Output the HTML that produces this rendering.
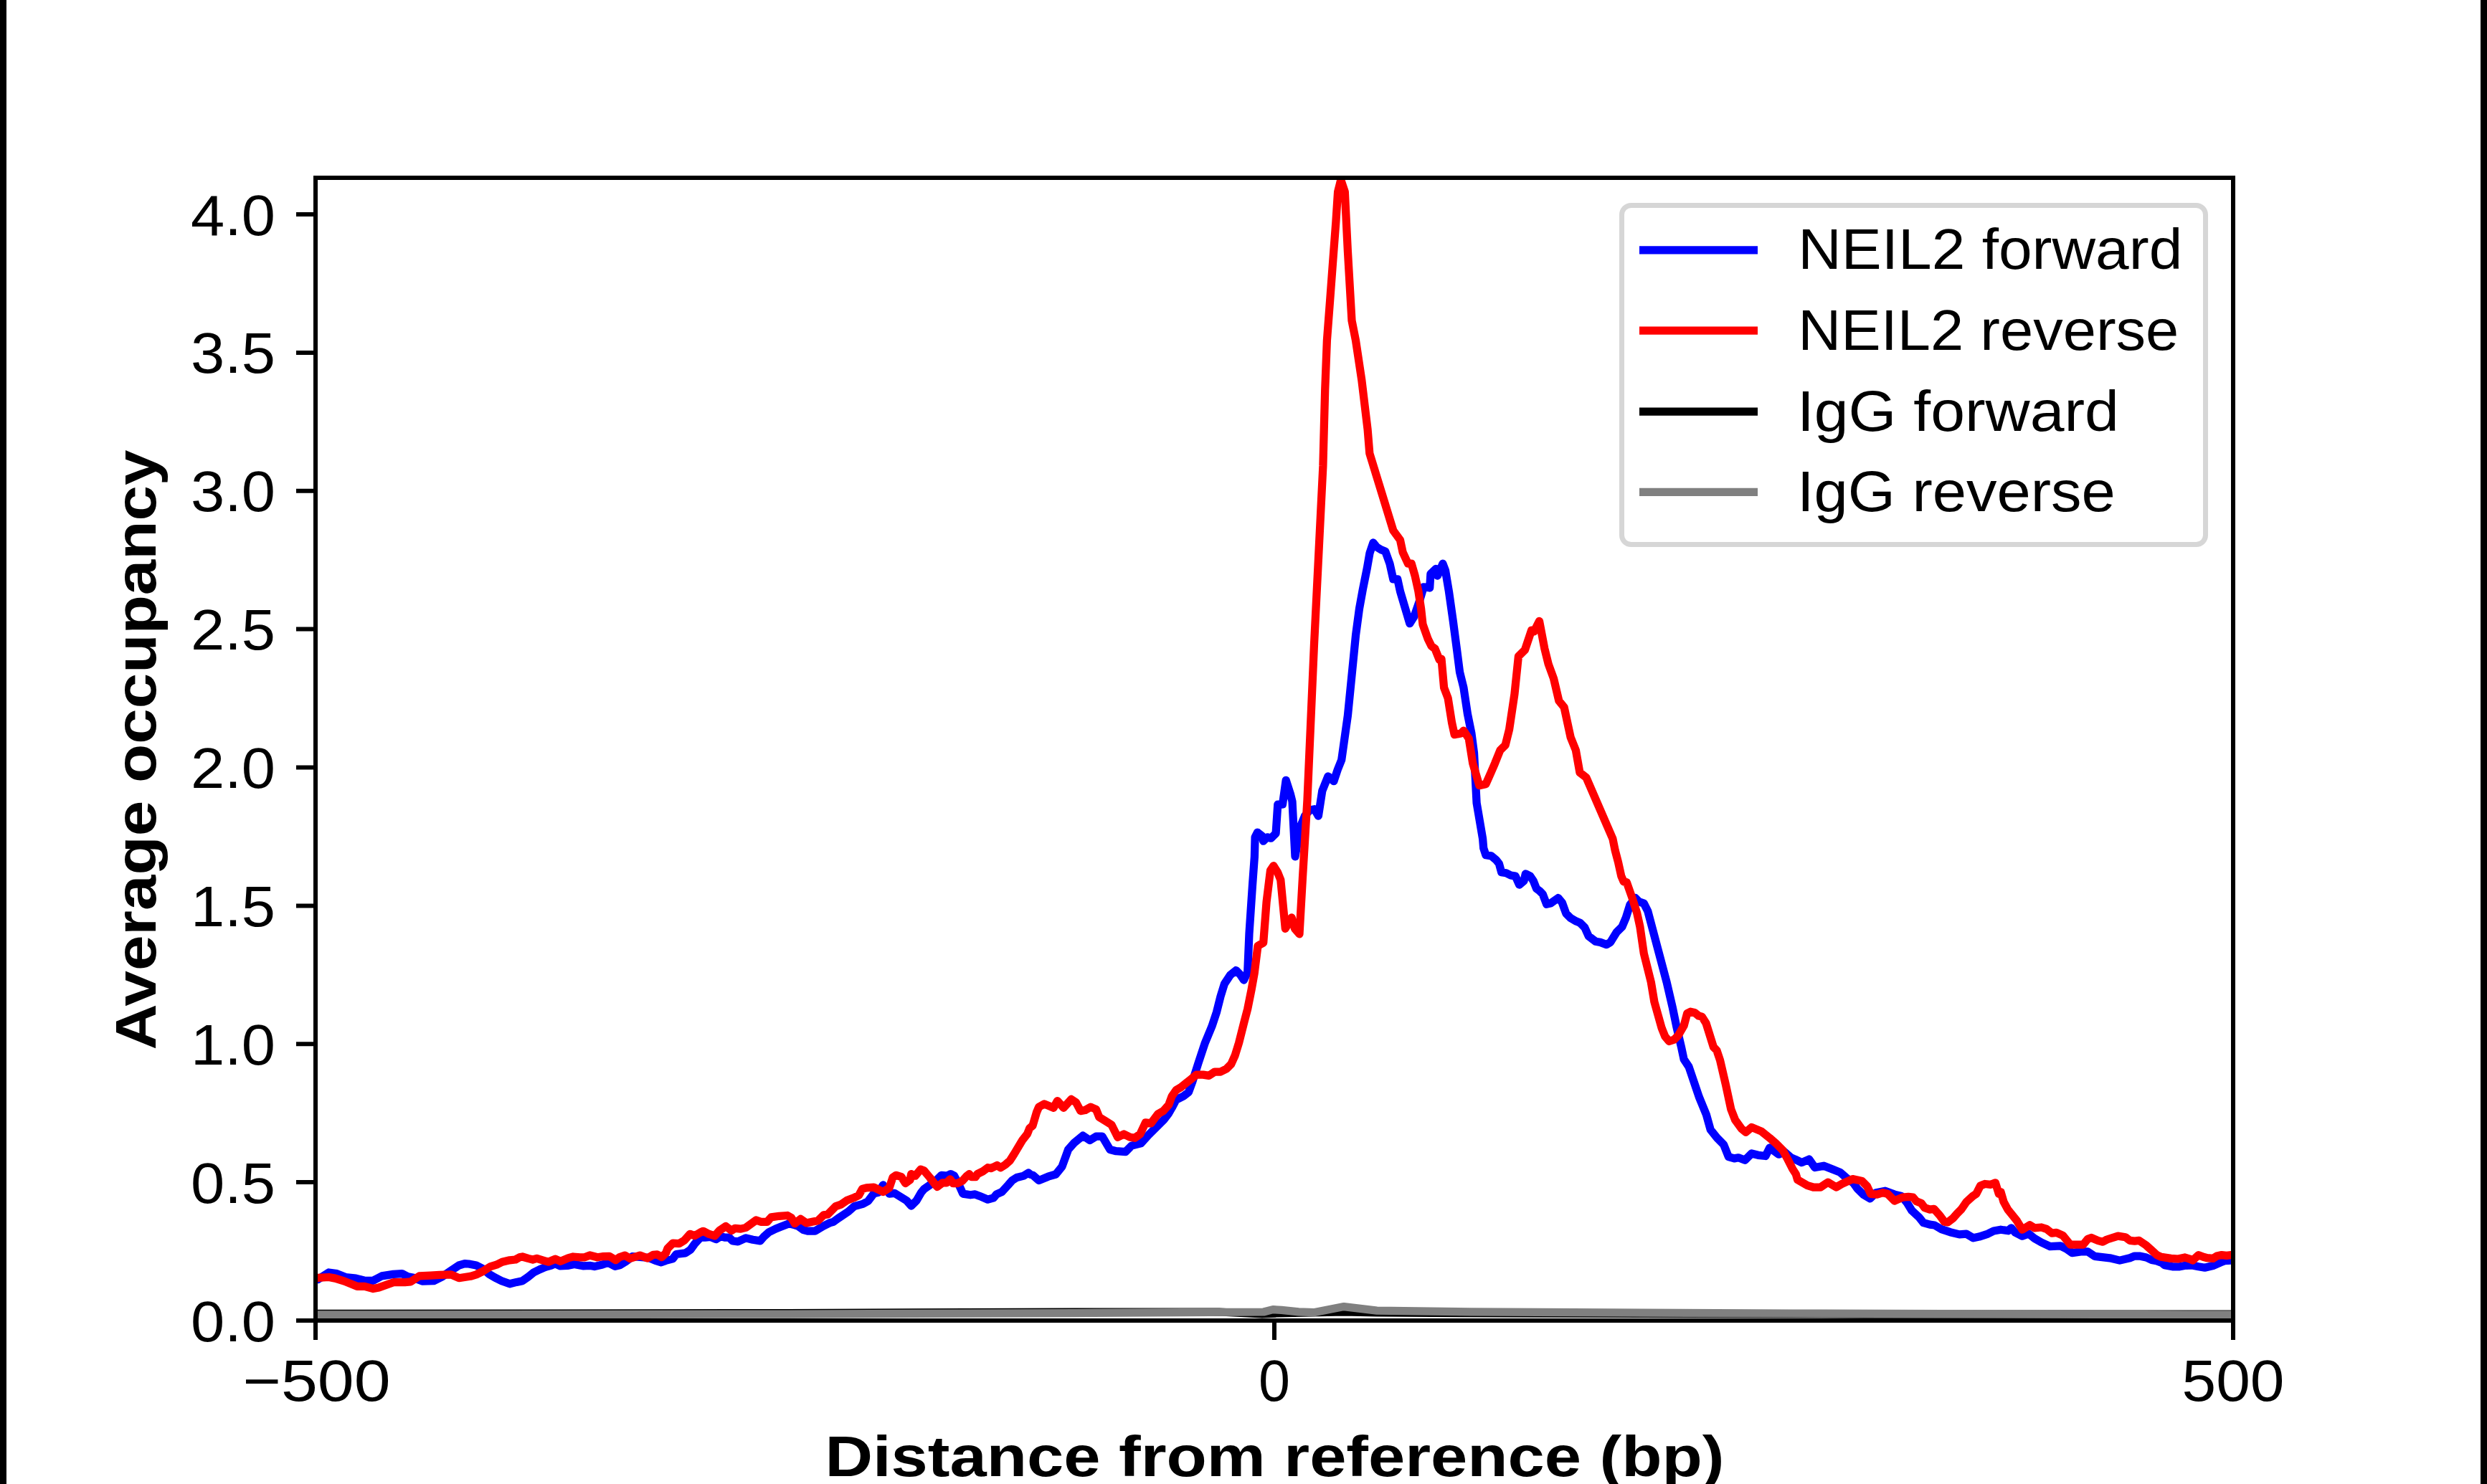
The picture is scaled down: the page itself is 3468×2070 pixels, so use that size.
<!DOCTYPE html>
<html><head><meta charset="utf-8">
<style>
html,body{margin:0;padding:0;background:#fff;width:3468px;height:2070px;overflow:hidden}
svg{display:block}
text{font-family:"Liberation Sans", sans-serif;fill:#000}
</style></head><body>
<svg width="3468" height="2070" viewBox="0 0 3468 2070">
<rect x="0" y="0" width="3468" height="2070" fill="#fff"/>
<rect x="0" y="0" width="9" height="2070" fill="#000"/>
<rect x="3459" y="0" width="9" height="2070" fill="#000"/>
<defs><clipPath id="ax"><rect x="440" y="248" width="2674" height="1594"/></clipPath></defs>
<g clip-path="url(#ax)" fill="none" stroke-linejoin="round" stroke-width="11.25">
<path d="M432.0 1784.7 L443.2 1784.7 L458.5 1775.0 L469.8 1776.6 L481.8 1781.5 L496.3 1783.1 L508.4 1786.3 L520.4 1786.3 L532.5 1779.9 L548.6 1777.4 L560.6 1776.6 L568.7 1780.7 L576.7 1782.3 L588.8 1787.1 L604.9 1786.7 L616.9 1780.7 L627.4 1773.4 L640.0 1765.0 L648.0 1762.6 L653.7 1763.0 L664.1 1765.0 L673.8 1769.9 L681.8 1777.1 L689.9 1781.9 L699.5 1786.7 L710.8 1790.8 L720.4 1788.4 L728.5 1786.7 L736.5 1781.1 L744.5 1774.7 L752.6 1770.7 L760.6 1767.4 L768.7 1765.0 L774.3 1762.6 L780.7 1765.8 L791.2 1765.4 L800.8 1763.4 L812.9 1765.8 L823.4 1765.4 L829.0 1766.6 L840.0 1764.0 L848.0 1761.2 L857.7 1766.4 L864.1 1764.8 L872.2 1760.0 L881.8 1752.7 L892.3 1753.5 L904.3 1754.3 L914.0 1758.4 L922.0 1760.8 L928.5 1758.4 L938.1 1755.9 L942.9 1749.5 L955.8 1747.9 L963.0 1743.1 L968.7 1735.0 L976.7 1726.2 L983.1 1726.2 L990.4 1725.4 L998.4 1728.6 L1004.9 1724.6 L1011.3 1726.2 L1016.9 1726.2 L1021.7 1731.0 L1029.0 1731.8 L1040.0 1726.9 L1049.7 1729.3 L1060.1 1730.9 L1065.7 1724.4 L1072.2 1718.8 L1081.8 1714.0 L1089.9 1710.8 L1100.3 1706.7 L1106.7 1708.4 L1112.4 1710.0 L1120.4 1715.6 L1126.9 1717.2 L1136.5 1717.2 L1148.6 1710.0 L1156.6 1705.9 L1162.2 1704.3 L1168.7 1699.5 L1183.1 1689.9 L1191.2 1682.6 L1203.2 1679.4 L1210.5 1675.4 L1218.5 1664.9 L1225.0 1663.3 L1231.4 1652.9 L1239.4 1664.1 L1240.0 1665.1 L1247.3 1664.3 L1264.3 1674.8 L1270.7 1682.1 L1278.0 1674.8 L1284.5 1663.5 L1288.5 1658.7 L1304.7 1647.3 L1312.8 1639.3 L1320.9 1640.1 L1325.7 1637.6 L1330.6 1640.1 L1337.0 1652.2 L1342.7 1665.1 L1353.2 1666.8 L1359.7 1665.9 L1366.2 1668.4 L1377.5 1673.2 L1385.6 1670.8 L1389.6 1665.9 L1396.9 1662.7 L1405.8 1653.0 L1411.5 1646.5 L1417.9 1642.5 L1427.6 1640.1 L1434.1 1636.0 L1437.3 1638.4 L1440.0 1639.1 L1448.6 1646.6 L1461.6 1641.2 L1472.3 1638.0 L1481.0 1627.2 L1489.6 1603.5 L1498.2 1593.8 L1510.1 1584.1 L1519.8 1590.6 L1528.4 1585.2 L1537.0 1585.2 L1547.8 1603.5 L1556.4 1605.7 L1569.4 1606.7 L1578.0 1598.1 L1590.9 1594.9 L1601.7 1583.0 L1612.5 1572.2 L1623.3 1561.5 L1629.8 1552.8 L1634.1 1545.3 L1640.0 1534.1 L1650.8 1528.7 L1657.5 1523.3 L1662.9 1508.5 L1671.0 1482.9 L1680.4 1454.6 L1689.9 1431.7 L1696.6 1411.4 L1702.0 1389.9 L1707.4 1372.4 L1715.5 1360.2 L1723.6 1353.5 L1729.0 1358.9 L1734.4 1367.0 L1739.7 1356.2 L1742.0 1301.8 L1746.4 1236.1 L1749.4 1194.8 L1750.1 1167.8 L1753.5 1161.1 L1760.2 1166.5 L1761.6 1173.2 L1767.0 1167.8 L1772.3 1169.2 L1779.1 1162.4 L1781.8 1122.0 L1788.5 1122.0 L1793.2 1088.3 L1799.3 1107.2 L1802.0 1118.0 L1806.0 1194.8 L1812.8 1154.3 L1819.5 1138.2 L1826.3 1130.1 L1833.0 1128.7 L1838.4 1138.2 L1843.8 1103.1 L1851.9 1082.9 L1859.9 1089.6 L1865.3 1073.5 L1870.7 1060.0 L1879.4 998.1 L1890.6 885.5 L1895.5 849.1 L1900.3 822.5 L1906.4 792.1 L1910.0 771.5 L1914.9 757.0 L1919.7 763.0 L1925.8 766.7 L1931.8 769.1 L1937.9 786.1 L1942.8 807.9 L1948.8 807.9 L1952.5 824.9 L1959.7 849.1 L1965.8 869.7 L1971.9 860.0 L1979.1 839.4 L1985.2 818.8 L1993.7 820.0 L1994.9 800.6 L2002.2 793.4 L2004.6 803.1 L2011.9 786.1 L2015.5 795.8 L2020.4 824.9 L2026.4 867.3 L2031.8 908.2 L2035.5 937.3 L2040.9 959.2 L2046.4 995.6 L2051.9 1022.9 L2055.5 1050.2 L2059.1 1120.0 L2067.6 1170.0 L2068.7 1183.0 L2071.9 1192.8 L2079.5 1193.9 L2086.1 1199.3 L2090.4 1204.7 L2093.7 1216.7 L2100.2 1217.8 L2106.7 1221.0 L2113.2 1222.1 L2118.6 1234.1 L2125.1 1228.6 L2127.3 1218.9 L2133.8 1222.1 L2138.2 1228.6 L2142.5 1239.5 L2146.9 1242.7 L2151.2 1247.1 L2156.6 1261.2 L2162.1 1260.1 L2172.9 1252.5 L2178.3 1259.0 L2183.8 1274.2 L2190.3 1280.7 L2197.9 1285.1 L2203.3 1287.2 L2209.8 1293.8 L2215.2 1305.7 L2225.0 1313.3 L2231.5 1314.4 L2240.2 1317.6 L2245.6 1314.4 L2254.3 1300.3 L2261.9 1292.7 L2267.4 1279.7 L2272.8 1262.3 L2280.4 1252.5 L2285.8 1257.9 L2292.3 1260.1 L2297.8 1271.0 L2324.1 1370.0 L2332.1 1404.4 L2337.8 1431.9 L2344.7 1461.6 L2348.1 1477.7 L2355.0 1488.0 L2369.2 1530.0 L2379.5 1555.2 L2385.2 1575.8 L2394.4 1587.3 L2403.5 1596.4 L2410.4 1613.6 L2418.4 1615.9 L2424.2 1614.8 L2433.3 1618.2 L2442.5 1609.0 L2451.6 1611.3 L2462.0 1612.5 L2467.7 1601.0 L2480.3 1610.2 L2488.3 1606.8 L2497.5 1614.8 L2503.2 1617.1 L2512.4 1621.6 L2522.7 1617.1 L2530.7 1628.5 L2543.3 1626.2 L2554.7 1630.8 L2566.2 1635.4 L2575.4 1643.4 L2584.5 1650.3 L2590.0 1658.0 L2598.1 1666.1 L2607.8 1671.8 L2615.9 1663.7 L2628.8 1661.2 L2641.8 1666.1 L2651.5 1668.5 L2659.6 1678.2 L2666.0 1688.7 L2675.7 1697.6 L2682.2 1705.7 L2691.1 1708.2 L2697.6 1709.0 L2707.3 1714.6 L2719.4 1718.7 L2732.3 1721.9 L2742.0 1721.1 L2751.7 1726.8 L2759.8 1725.1 L2772.0 1721.1 L2780.1 1717.0 L2790.0 1715.2 L2800.5 1716.8 L2804.6 1712.8 L2810.2 1719.3 L2819.9 1724.1 L2828.8 1720.9 L2836.9 1727.3 L2846.6 1733.0 L2858.7 1738.7 L2873.3 1737.9 L2881.4 1741.9 L2889.5 1747.6 L2901.6 1745.9 L2911.3 1745.9 L2921.0 1752.4 L2942.0 1754.8 L2955.8 1758.1 L2970.0 1754.7 L2976.7 1752.0 L2983.5 1752.0 L2992.9 1754.0 L3000.3 1757.4 L3007.1 1758.7 L3014.5 1761.4 L3018.5 1764.8 L3029.3 1766.8 L3039.4 1766.8 L3046.1 1765.5 L3055.6 1764.8 L3065.7 1766.8 L3074.4 1768.2 L3085.9 1765.5 L3096.7 1760.8 L3102.1 1758.7 L3111.2 1758.1 L3120.0 1758.1 L3122.0 1758.1" stroke="#0000ff"/>
<path d="M432.0 1782.3 L443.2 1782.3 L458.5 1781.5 L467.3 1783.1 L480.2 1787.1 L497.9 1794.3 L508.4 1794.3 L520.4 1797.6 L528.5 1795.9 L548.6 1788.7 L564.6 1788.7 L572.7 1787.9 L584.8 1779.9 L600.8 1779.1 L612.9 1778.3 L629.0 1777.8 L640.0 1782.7 L648.0 1781.5 L656.1 1780.3 L664.1 1777.9 L673.8 1773.1 L684.2 1766.6 L692.3 1764.2 L700.3 1760.2 L710.8 1757.8 L718.8 1757.0 L724.4 1753.8 L728.5 1753.0 L736.5 1755.4 L742.9 1757.0 L748.6 1755.4 L756.6 1757.8 L764.6 1760.2 L774.3 1756.2 L781.5 1759.4 L792.8 1754.6 L799.2 1753.0 L808.9 1753.8 L815.3 1753.8 L822.5 1751.0 L833.0 1753.8 L840.0 1752.7 L849.7 1752.3 L858.5 1757.6 L864.1 1753.5 L871.4 1751.1 L878.6 1755.5 L892.3 1751.1 L902.7 1755.1 L910.8 1750.3 L916.4 1749.9 L922.8 1753.5 L928.5 1747.9 L930.9 1741.5 L938.1 1734.2 L947.0 1734.6 L954.2 1730.2 L962.2 1721.4 L968.7 1723.8 L976.7 1719.0 L980.7 1717.3 L988.8 1721.4 L996.8 1723.8 L1003.2 1716.5 L1012.1 1710.5 L1020.1 1716.5 L1025.0 1713.3 L1033.0 1714.1 L1040.0 1712.4 L1054.5 1701.9 L1060.9 1704.3 L1069.8 1704.3 L1075.4 1697.9 L1086.6 1696.3 L1097.9 1695.5 L1103.5 1698.7 L1108.4 1706.7 L1116.4 1700.3 L1124.4 1705.9 L1132.5 1704.3 L1140.5 1702.7 L1148.6 1694.7 L1154.2 1693.9 L1165.5 1682.6 L1172.7 1680.2 L1180.7 1674.6 L1191.2 1670.6 L1197.6 1667.3 L1202.4 1658.5 L1208.1 1656.9 L1218.5 1656.1 L1231.4 1662.5 L1240.0 1657.0 L1244.9 1642.5 L1249.7 1639.3 L1257.0 1641.7 L1262.6 1650.6 L1269.1 1645.7 L1270.7 1637.6 L1276.4 1640.1 L1283.7 1631.2 L1288.5 1632.8 L1296.6 1642.5 L1304.7 1653.0 L1307.1 1655.4 L1314.4 1649.8 L1320.1 1649.8 L1324.9 1644.9 L1329.0 1650.6 L1335.4 1650.6 L1341.9 1647.3 L1348.4 1640.1 L1351.6 1637.6 L1354.8 1641.7 L1360.5 1641.7 L1362.9 1637.6 L1371.0 1633.6 L1377.5 1628.7 L1382.3 1629.6 L1390.4 1625.5 L1395.3 1628.7 L1401.7 1624.7 L1408.2 1619.0 L1413.9 1610.1 L1426.0 1589.9 L1432.5 1581.8 L1435.7 1573.7 L1440.0 1570.1 L1445.4 1551.8 L1448.6 1544.2 L1456.2 1539.9 L1469.1 1545.3 L1474.5 1535.6 L1483.1 1545.3 L1493.9 1533.4 L1500.4 1537.7 L1506.8 1549.6 L1513.3 1548.5 L1520.9 1544.2 L1528.4 1547.4 L1532.7 1558.2 L1541.3 1563.6 L1550.0 1569.0 L1558.6 1586.3 L1567.2 1581.9 L1575.8 1586.3 L1582.3 1587.3 L1589.9 1581.9 L1597.4 1565.8 L1605.0 1566.8 L1614.7 1553.9 L1622.2 1549.6 L1629.8 1541.0 L1634.1 1529.1 L1640.0 1520.6 L1646.7 1516.6 L1653.5 1511.2 L1660.2 1505.8 L1668.3 1499.1 L1677.7 1499.1 L1685.8 1500.4 L1693.9 1495.0 L1702.0 1495.0 L1710.1 1491.0 L1716.8 1484.2 L1722.2 1472.1 L1727.6 1454.6 L1734.4 1427.6 L1739.7 1407.4 L1745.1 1380.4 L1749.2 1357.5 L1754.0 1319.3 L1761.7 1315.0 L1766.1 1258.0 L1771.5 1214.2 L1775.9 1207.7 L1781.4 1216.4 L1785.8 1227.4 L1792.3 1295.3 L1801.1 1279.9 L1805.5 1295.3 L1812.0 1302.9 L1816.4 1225.2 L1823.0 1115.7 L1832.5 898.6 L1839.4 760.5 L1844.9 650.0 L1847.7 543.9 L1850.4 474.8 L1854.6 419.6 L1858.7 364.3 L1862.9 309.1 L1865.6 267.6 L1869.8 251.0 L1875.3 267.6 L1879.4 350.5 L1885.0 447.2 L1890.5 474.8 L1898.8 530.1 L1907.1 599.1 L1909.8 632.3 L1942.8 740.0 L1952.5 753.3 L1956.1 770.3 L1963.4 786.1 L1968.2 786.1 L1973.1 803.1 L1977.9 824.9 L1981.6 849.1 L1984.0 871.0 L1991.3 891.6 L1996.1 901.3 L2001.0 904.9 L2007.0 919.9 L2010.0 919.1 L2013.6 959.2 L2019.1 973.7 L2024.6 1008.3 L2028.2 1024.7 L2037.3 1022.9 L2040.9 1019.2 L2048.2 1030.1 L2053.7 1064.7 L2062.8 1095.7 L2071.9 1093.8 L2079.1 1077.5 L2084.6 1064.7 L2091.9 1046.5 L2099.2 1039.2 L2104.6 1017.4 L2111.9 968.3 L2117.4 915.5 L2126.5 906.4 L2135.6 879.1 L2139.2 880.9 L2146.5 866.4 L2153.8 904.6 L2159.2 926.4 L2166.5 946.4 L2173.8 977.4 L2181.1 986.5 L2190.1 1028.3 L2197.4 1046.5 L2202.9 1077.5 L2212.0 1084.7 L2248.9 1170.0 L2252.2 1186.3 L2256.5 1202.6 L2260.8 1222.1 L2264.1 1229.7 L2268.4 1230.8 L2276.0 1252.5 L2282.6 1273.1 L2286.9 1292.7 L2292.3 1330.0 L2302.3 1370.0 L2306.9 1397.5 L2317.2 1434.2 L2321.8 1445.6 L2327.5 1452.5 L2334.4 1450.2 L2340.1 1444.5 L2348.1 1430.7 L2352.7 1413.5 L2357.3 1411.2 L2363.0 1412.4 L2368.7 1417.0 L2373.3 1418.1 L2379.0 1427.3 L2389.4 1460.5 L2393.9 1465.1 L2398.5 1478.8 L2406.5 1513.2 L2413.8 1547.2 L2419.6 1562.1 L2428.7 1574.7 L2434.5 1579.3 L2442.5 1572.4 L2456.2 1578.1 L2467.7 1587.3 L2476.8 1595.3 L2486.0 1604.5 L2492.9 1617.1 L2499.8 1630.8 L2504.3 1637.7 L2506.6 1645.7 L2520.4 1653.7 L2528.4 1656.0 L2538.7 1656.0 L2549.0 1649.1 L2560.5 1656.0 L2568.5 1651.4 L2583.4 1644.6 L2590.0 1645.9 L2596.5 1647.5 L2603.7 1654.8 L2608.6 1665.3 L2617.5 1666.1 L2625.6 1663.7 L2632.1 1665.3 L2641.8 1675.0 L2653.1 1670.1 L2661.2 1669.3 L2667.6 1670.1 L2672.5 1675.8 L2679.0 1678.2 L2683.8 1684.7 L2691.1 1687.1 L2696.8 1686.3 L2704.8 1695.2 L2711.3 1704.1 L2716.2 1704.9 L2723.4 1699.3 L2729.1 1692.8 L2734.8 1687.1 L2742.0 1676.6 L2750.9 1668.5 L2755.8 1665.3 L2761.5 1654.0 L2767.9 1651.5 L2776.0 1652.3 L2782.5 1649.9 L2787.3 1665.3 L2790.0 1662.6 L2794.0 1676.4 L2799.7 1686.9 L2806.2 1695.0 L2812.6 1703.1 L2819.9 1715.2 L2830.4 1708.7 L2836.9 1712.8 L2846.6 1712.0 L2853.9 1714.4 L2861.2 1720.1 L2867.6 1719.3 L2876.5 1723.3 L2887.0 1736.2 L2894.3 1736.2 L2904.8 1736.2 L2911.3 1728.2 L2916.2 1726.5 L2925.9 1730.6 L2932.3 1732.2 L2938.0 1729.0 L2953.4 1724.1 L2963.9 1725.7 L2970.0 1730.4 L2976.7 1731.1 L2982.8 1730.4 L2992.9 1737.2 L2999.6 1743.2 L3007.7 1750.6 L3013.8 1753.3 L3027.3 1755.4 L3037.4 1756.0 L3046.8 1754.0 L3054.9 1756.7 L3057.6 1758.1 L3065.7 1750.6 L3072.4 1753.3 L3077.8 1754.7 L3085.9 1755.4 L3091.3 1752.0 L3098.0 1750.6 L3104.8 1751.3 L3111.2 1750.6 L3120.0 1750.6 L3122.0 1750.6" stroke="#ff0000"/>
<path d="M432.0 1832.5 L1100.0 1831.5 L1500.0 1830.0 L1700.0 1830.0 L1760.0 1833.0 L1780.0 1832.0 L1830.0 1831.0 L1873.0 1830.0 L1920.0 1831.0 L2100.0 1832.0 L2600.0 1833.0 L3122.0 1833.0" stroke="#000000"/>
<path d="M432.0 1834.0 L1100.0 1833.0 L1500.0 1831.5 L1650.0 1830.7 L1762.0 1830.0 L1775.0 1826.6 L1787.0 1827.4 L1811.0 1829.9 L1832.0 1830.7 L1874.0 1822.6 L1920.0 1828.2 L2050.0 1829.9 L2500.0 1832.0 L3122.0 1834.0" stroke="#808080"/>
</g>

<rect x="440" y="248" width="2674" height="1594" fill="none" stroke="#000" stroke-width="6.0" stroke-linejoin="miter" stroke-linecap="square"/>
<path d="M413 1842.00 H440 M413 1649.12 H440 M413 1456.25 H440 M413 1263.38 H440 M413 1070.50 H440 M413 877.62 H440 M413 684.75 H440 M413 491.88 H440 M413 299.00 H440 M440.00 1842 V1869 M1777.00 1842 V1869 M3114.00 1842 V1869" stroke="#000" stroke-width="6.0" fill="none"/>
<text x="384" y="1870.5" font-size="80" text-anchor="end" textLength="118" lengthAdjust="spacingAndGlyphs">0.0</text>
<text x="384" y="1677.6" font-size="80" text-anchor="end" textLength="118" lengthAdjust="spacingAndGlyphs">0.5</text>
<text x="384" y="1484.8" font-size="80" text-anchor="end" textLength="118" lengthAdjust="spacingAndGlyphs">1.0</text>
<text x="384" y="1291.9" font-size="80" text-anchor="end" textLength="118" lengthAdjust="spacingAndGlyphs">1.5</text>
<text x="384" y="1099.0" font-size="80" text-anchor="end" textLength="118" lengthAdjust="spacingAndGlyphs">2.0</text>
<text x="384" y="906.1" font-size="80" text-anchor="end" textLength="118" lengthAdjust="spacingAndGlyphs">2.5</text>
<text x="384" y="713.2" font-size="80" text-anchor="end" textLength="118" lengthAdjust="spacingAndGlyphs">3.0</text>
<text x="384" y="520.4" font-size="80" text-anchor="end" textLength="118" lengthAdjust="spacingAndGlyphs">3.5</text>
<text x="384" y="327.5" font-size="80" text-anchor="end" textLength="118" lengthAdjust="spacingAndGlyphs">4.0</text>
<text x="441.5" y="1954" font-size="81" text-anchor="middle" textLength="206" lengthAdjust="spacingAndGlyphs">−500</text>
<text x="1777.0" y="1954" font-size="81" text-anchor="middle" textLength="44" lengthAdjust="spacingAndGlyphs">0</text>
<text x="3114.0" y="1954" font-size="81" text-anchor="middle" textLength="143" lengthAdjust="spacingAndGlyphs">500</text>
<text x="1777.5" y="2059" font-size="80" font-weight="bold" text-anchor="middle" textLength="1254" lengthAdjust="spacingAndGlyphs">Distance from reference (bp)</text>
<text transform="translate(216.5 1046) rotate(-90)" x="0" y="0" font-size="80" font-weight="bold" text-anchor="middle" textLength="837" lengthAdjust="spacingAndGlyphs">Average occupancy</text>
<rect x="2261.5" y="286.5" width="814" height="473" rx="13" ry="13" fill="#fff" stroke="#d6d6d6" stroke-width="7"/>
<path d="M2286 348.8 H2451" stroke="#0000ff" stroke-width="11.25"/>
<text x="2507.3" y="375.0" font-size="80" textLength="536" lengthAdjust="spacingAndGlyphs">NEIL2 forward</text>
<path d="M2286 461.2 H2451" stroke="#ff0000" stroke-width="11.25"/>
<text x="2507.3" y="487.8" font-size="80" textLength="531" lengthAdjust="spacingAndGlyphs">NEIL2 reverse</text>
<path d="M2286 574.0 H2451" stroke="#000000" stroke-width="11.25"/>
<text x="2505.9" y="600.5" font-size="80" textLength="449" lengthAdjust="spacingAndGlyphs">IgG forward</text>
<path d="M2286 686.3 H2451" stroke="#808080" stroke-width="11.25"/>
<text x="2505.9" y="713.4" font-size="80" textLength="444" lengthAdjust="spacingAndGlyphs">IgG reverse</text>
</svg></body></html>
